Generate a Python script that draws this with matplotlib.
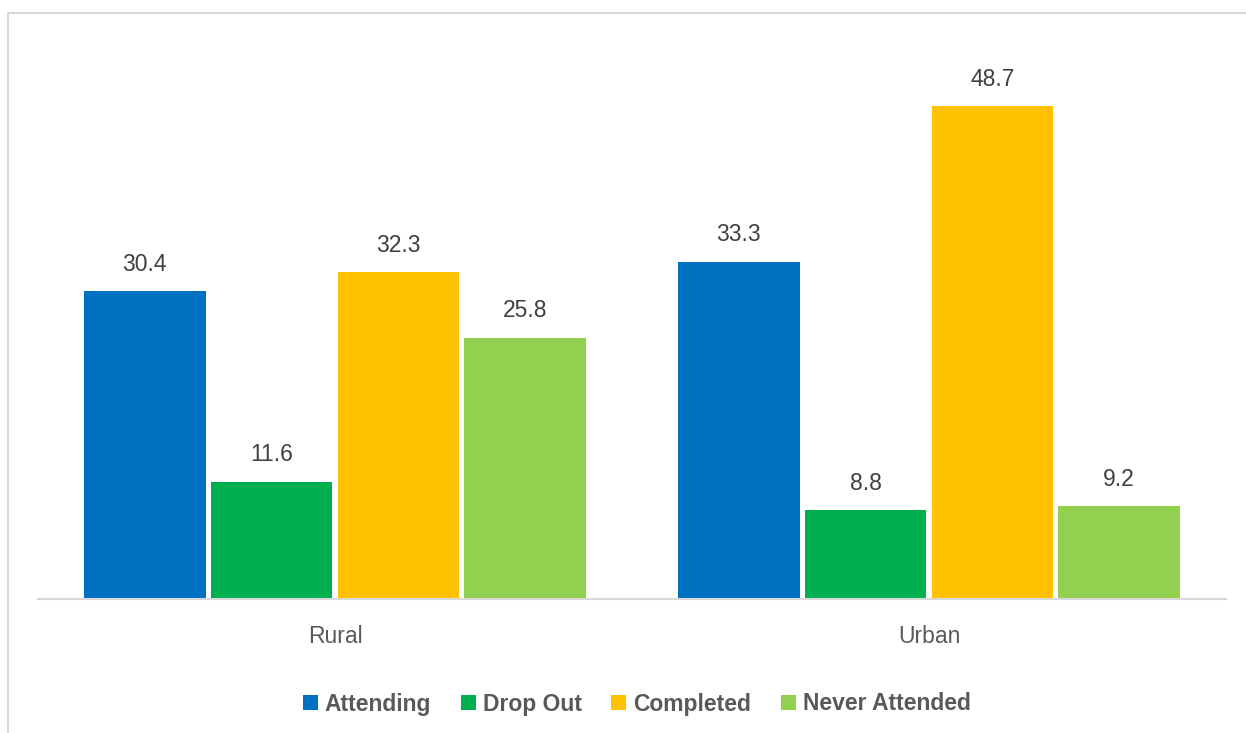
import numpy as np
import matplotlib.pyplot as plt
from matplotlib.patches import Rectangle

# -------------------------------
# Data
# -------------------------------
categories = ["Rural", "Urban"]
series = ["Attending", "Drop Out", "Completed", "Never Attended"]
attending = [30.4, 33.3]
drop_out = [11.6, 8.8]
completed = [32.3, 48.7]
never_attended = [25.8, 9.2]
values = [attending, drop_out, completed, never_attended]
colors = ["#0070C0", "#00B050", "#FFC000", "#92D050"]

plt.rcParams["font.family"] = ["Liberation Sans Narrow", "Liberation Sans", "DejaVu Sans"]
text_color = "#404040"

fig = plt.figure(figsize=(12.46, 7.33), dpi=100)
ax = fig.add_axes([38 / 1246, 134 / 733, 1188 / 1246, 559 / 733])

x = np.arange(len(categories))
slot = 0.2135
width = 0.205
for i, (name, vals, c) in enumerate(zip(series, values, colors)):
    pos = x + (i - 1.5) * slot
    bars = ax.bar(pos, vals, width=width, color=c, label=name)
    for b, v in zip(bars, vals):
        ax.annotate(f"{v:.1f}", (b.get_x() + b.get_width() / 2, v),
                    xytext=(0, 11), textcoords="offset points",
                    ha="center", va="bottom", fontsize=16.5, color=text_color)

ax.set_xlim(-0.5, 1.5)
ax.set_ylim(0, 55.2)
ax.set_xticks(x)
ax.set_xticklabels(categories, fontsize=16.5, color="#595959")
ax.tick_params(axis="x", length=0, pad=19)
ax.set_yticks([])
for s in ["top", "right", "left"]:
    ax.spines[s].set_visible(False)
ax.spines["bottom"].set_color("#D9D9D9")
ax.spines["bottom"].set_linewidth(1.5)

leg = fig.legend(loc="center", bbox_to_anchor=(0.511, 1 - 704 / 733), ncol=4,
                 frameon=False, handlelength=0.65, handleheight=0.65,
                 handletextpad=0.3, columnspacing=1.3,
                 prop={"size": 16.5, "weight": "bold"})
for t in leg.get_texts():
    t.set_color("#595959")

# chart frame
fig.patches.append(Rectangle((8 / 1246, -0.1), 1.2, 1 - 13 / 733 + 0.1,
                             transform=fig.transFigure, fill=False,
                             edgecolor="#D9D9D9", linewidth=1.5))

fig.savefig("out.png", dpi=100)
